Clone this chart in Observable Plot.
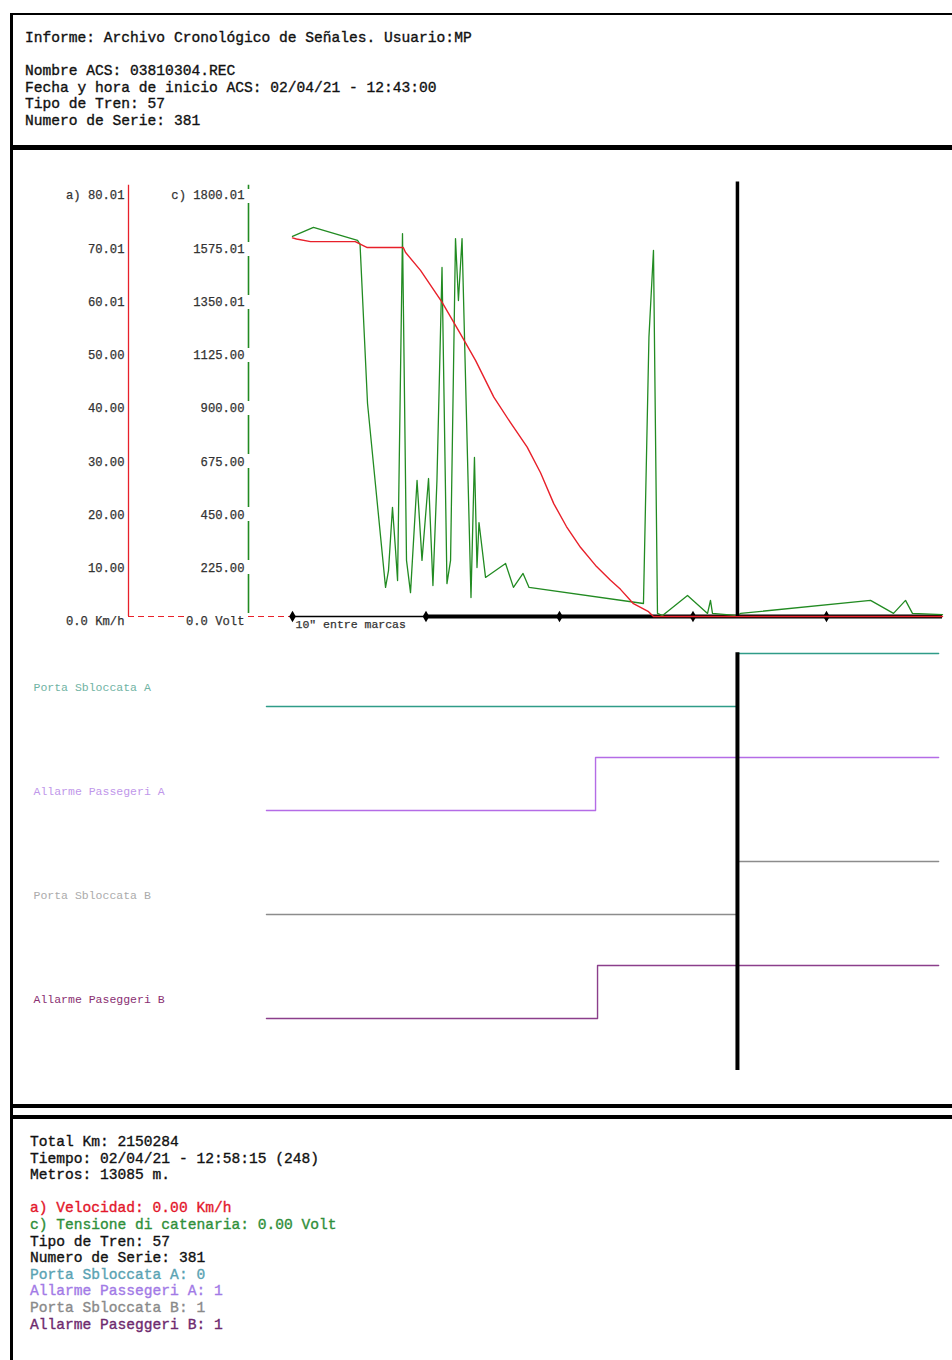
<!DOCTYPE html>
<html><head><meta charset="utf-8">
<script src="https://cdn.jsdelivr.net/npm/d3@7"></script>
<script src="https://cdn.jsdelivr.net/npm/@observablehq/plot@0.6"></script>
<style>
html,body{margin:0;padding:0;background:#fff;}
body{width:952px;height:1360px;position:relative;overflow:hidden;font-family:"Liberation Mono","DejaVu Sans Mono",monospace;}
.abs{position:absolute;}
.txt{font-size:14.6px;line-height:16.6px;color:#111;white-space:pre;-webkit-text-stroke:0.35px currentColor;}
svg{overflow:visible;}
</style></head><body>
<div class="abs" style="left:10px;top:13px;width:3px;height:1347px;background:#000"></div>
<div class="abs" style="left:10px;top:13px;width:942px;height:2px;background:#000"></div>
<div class="abs" style="left:10px;top:145px;width:942px;height:5px;background:#000"></div>
<div class="abs" style="left:10px;top:1104px;width:942px;height:4px;background:#000"></div>
<div class="abs" style="left:10px;top:1115px;width:942px;height:4px;background:#000"></div>
<div id="header" class="abs txt" style="left:25px;top:30px"></div>
<div id="analog" class="abs" style="left:0;top:150px"></div>
<div id="digital" class="abs" style="left:0;top:640px"></div>
<div id="footer" class="abs txt" style="left:30px;top:1134px"></div>
<script>
// ---------- text data ----------
const headerLines = [
  "Informe: Archivo Cronológico de Señales. Usuario:MP",
  "",
  "Nombre ACS: 03810304.REC",
  "Fecha y hora de inicio ACS: 02/04/21 - 12:43:00",
  "Tipo de Tren: 57",
  "Numero de Serie: 381"
];
const footerLines = [
  "Total Km: 2150284",
  "Tiempo: 02/04/21 - 12:58:15 (248)",
  "Metros: 13085 m.",
  "",
  "a) Velocidad: 0.00 Km/h",
  "c) Tensione di catenaria: 0.00 Volt",
  "Tipo de Tren: 57",
  "Numero de Serie: 381",
  "Porta Sbloccata A: 0",
  "Allarme Passegeri A: 1",
  "Porta Sbloccata B: 1",
  "Allarme Paseggeri B: 1"
];
const footerColors = ["#111","#111","#111","#111","#e3172b","#2f8f3a","#111","#111","#5aa3b3","#a27ae6","#8a8a8a","#6e2a6e"];

// ---------- axis ticks ----------
const speedMax = 80.01, voltMax = 1800.01;
const speedTicks = [0, 10, 20, 30, 40, 50, 60.01, 70.01, 80.01];
const speedTickLabels = ["0.0 Km/h", "10.00", "20.00", "30.00", "40.00", "50.00", "60.01", "70.01", "a) 80.01"];
const voltTicks = [0, 225, 450, 675, 900, 1125, 1350.01, 1575.01, 1800.01];
const voltTickLabels = ["0.0 Volt", "225.00", "450.00", "675.00", "900.00", "1125.00", "1350.01", "1575.01", "c) 1800.01"];
const timeMarks = [0, 10, 20, 30, 40];
const timeEnd = 48.69;
const cursorTime = 33.33;

// ---------- a) speed (km/h) over time (s) ----------
const speedTime  = [0, 0.3, 1.35, 4.7, 5.6, 8.3, 8.46, 9.59, 11.21, 12.58, 13.71, 15.08, 16.33, 17.58, 18.58, 19.57, 20.52, 21.57, 22.7, 23.82, 24.57, 25.54, 26.67, 27.04, 48.69];
const speedValue = [71.1, 70.9, 70.4, 70.4, 69.3, 69.3, 68.4, 65.0, 59.0, 53.1, 48.1, 41.2, 36.4, 31.8, 27.0, 21.2, 16.9, 13.0, 9.6, 6.8, 5.1, 2.4, 0.9, 0, 0];

// ---------- c) catenary voltage (V) over time (s) ----------
const voltTime  = [0, 1.57, 4.87, 5.06, 5.62, 6.97, 7.19, 7.49, 7.72, 7.87, 8.24, 8.54, 8.84, 9.33, 9.70, 10.19, 10.52, 10.82, 11.20, 11.57, 11.84, 12.21, 12.43, 12.70, 13.37, 13.63, 13.82, 13.97, 14.46, 15.96, 16.55, 17.27, 17.72, 26.29, 26.70, 27.04, 27.34, 27.72, 29.59, 31.09, 31.31, 31.46, 33.33, 33.56, 43.30, 45.02, 45.92, 46.44, 48.69];
const voltValue = [1606, 1644, 1589, 1572, 900, 123, 194, 461, 279, 152, 1618, 237, 101, 575, 237, 583, 131, 575, 1475, 139, 237, 1597, 1335, 1597, 80, 672, 207, 397, 165, 224, 123, 182, 123, 55, 1180, 1547, 13, 4, 89, 13, 68, 13, 4, 13, 68, 13, 68, 13, 8];

// ---------- digital signals ----------
const digitalNames = ["Porta Sbloccata A", "Allarme Passegeri A", "Porta Sbloccata B", "Allarme Paseggeri B"];
const digitalTimes = [[-1.95, 33.33, 48.4], [-1.95, 22.7, 48.4], [-1.95, 33.33, 48.4], [-1.95, 22.85, 48.4]];
const digitalValues = [[0, 1, 1], [0, 1, 1], [0, 1, 1], [0, 1, 1]];
const digitalLineColors = ["#2f9c88", "#b46ce6", "#8c8c8c", "#8b3f8b"];
const digitalLabelColors = ["#6fb3a3", "#bf97ea", "#ababab", "#8a2f72"];

// ---------- header / footer ----------
document.getElementById("header").textContent = headerLines.join("\n");
const foot = document.getElementById("footer");
footerLines.forEach((l, i) => {
  const d = document.createElement("div");
  d.textContent = l || " ";
  d.style.color = footerColors[i];
  foot.appendChild(d);
});

// ---------- analog plot ----------
const RED = "#e8202a", GREEN = "#228b22";
const speedData = speedTime.map((t, i) => ({t, v: speedValue[i]}));
const voltData = voltTime.map((t, i) => ({t, v: voltValue[i]}));
const toSpeed = (v) => v * speedMax / voltMax;
const mono = "Liberation Mono, DejaVu Sans Mono, monospace";

const analog = Plot.plot({
  width: 952, height: 490,
  marginLeft: 292, marginRight: 10, marginTop: 40, marginBottom: 24,
  x: {domain: [0, timeEnd], axis: null},
  y: {domain: [0, speedMax], axis: null},
  style: {fontFamily: mono, background: "transparent", overflow: "visible"},
  marks: [
    Plot.ruleX([0], {x: d => d, y1: () => 0, y2: () => 81, dx: -164, stroke: RED, strokeWidth: 1.3}),
    Plot.ruleX([0], {x: d => d, y1: () => 0, y2: () => 81, dx: -44, stroke: GREEN, strokeWidth: 1.6, strokeDasharray: "39,14", strokeDashoffset: 50}),
    Plot.ruleY([0], {y: d => d, insetLeft: -164, insetRight: 757, stroke: RED, strokeWidth: 1.2, strokeDasharray: "6,4"}),
    Plot.ruleY([0], {y: d => d, insetLeft: -44, insetRight: 650, stroke: RED, strokeWidth: 1.2, strokeDasharray: "6,4"}),
    Plot.text(speedTicks, {y: d => d, text: (d, i) => speedTickLabels[i], frameAnchor: "left", dx: -168, dy: 5, textAnchor: "end", fill: "#333", stroke: "#333", strokeWidth: 0.25, fontSize: 12.2}),
    Plot.text(voltTicks, {y: d => toSpeed(d), text: (d, i) => voltTickLabels[i], frameAnchor: "left", dx: -48, dy: 5, textAnchor: "end", fill: "#333", stroke: "#333", strokeWidth: 0.25, fontSize: 12.2}),
    Plot.ruleY([0], {y: d => d, x1: () => 0, x2: () => 10, stroke: "#000", strokeWidth: 1.6}),
    Plot.ruleY([0], {y: d => d, x1: () => 10, x2: () => timeEnd, stroke: "#000", strokeWidth: 4}),
    Plot.dot(timeMarks, {x: d => d, y: () => 0, r: 3.5, symbol: "diamond", fill: "#000"}),
    Plot.text(['10" entre marcas'], {x: () => 0, y: () => 0, text: d => d, dx: 3, dy: 8, textAnchor: "start", fill: "#333", stroke: "#333", strokeWidth: 0.25, fontSize: 11.5}),
    Plot.line(voltData, {x: "t", y: d => toSpeed(d.v), stroke: GREEN, strokeWidth: 1.3}),
    Plot.line(speedData, {x: "t", y: "v", stroke: RED, strokeWidth: 1.4}),
    Plot.ruleX([cursorTime], {x: d => d, y1: () => 0, y2: () => 81.6, stroke: "#000", strokeWidth: 3.5})
  ]
});
document.getElementById("analog").appendChild(analog);

// ---------- digital plot ----------
const rowPitch = 104 / 53;
const rowOf = (i) => (digitalNames.length - 1 - i) * rowPitch;
const digital = Plot.plot({
  width: 952, height: 465,
  marginLeft: 292, marginRight: 10, marginTop: 0, marginBottom: 0,
  x: {domain: [0, timeEnd], axis: null},
  y: {domain: [0, 1], range: [378, 325], axis: null},
  style: {fontFamily: mono, background: "transparent", overflow: "visible"},
  marks: [
    ...digitalNames.map((name, i) => Plot.line(
      digitalTimes[i].map((t, k) => ({t, v: digitalValues[i][k]})),
      {x: "t", y: d => d.v + rowOf(i), curve: "step-after", stroke: digitalLineColors[i], strokeWidth: 1.4})),
    ...digitalNames.map((name, i) => Plot.text([name], {
      text: d => d, y: () => 0.36 + rowOf(i), frameAnchor: "left", dx: -259, textAnchor: "start",
      fill: digitalLabelColors[i], fontSize: 11.5})),
    Plot.ruleX([cursorTime], {x: d => d, y1: () => -0.98, y2: () => 6.9, stroke: "#000", strokeWidth: 4})
  ]
});
document.getElementById("digital").appendChild(digital);
</script>
</body></html>
